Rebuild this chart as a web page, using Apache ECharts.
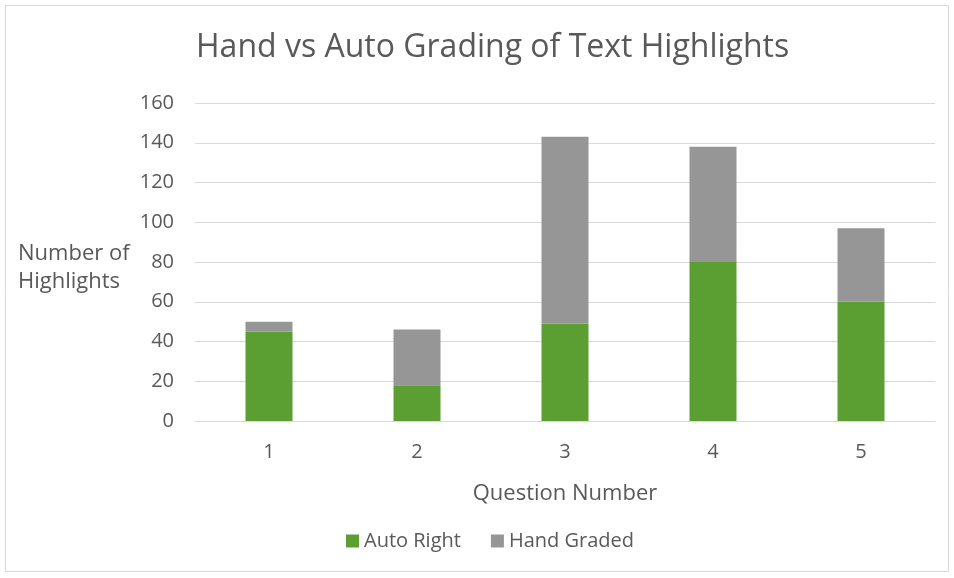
<!DOCTYPE html>
<html>
<head>
<meta charset="utf-8">
<script src="https://cdn.jsdelivr.net/npm/echarts@6/dist/echarts.min.js"></script>
<style>
  html, body { margin: 0; padding: 0; background: #fff; }
  #chart { width: 954px; height: 578px; }
</style>
</head>
<body>
<div id="chart"></div>
<script>
// Highlights per question, split by grading method
const questions = ['1', '2', '3', '4', '5'];
const autoRight = [45, 18, 49, 80, 60];
const handGraded = [5, 28, 94, 58, 37];
const yTicks = { min: 0, max: 160, interval: 20 };

const textColor = '#595959';
const fontFamily = 'Open Sans, Lato, sans-serif';

const chart = echarts.init(document.getElementById('chart'));
chart.setOption({
  backgroundColor: '#fff',
  animation: false,
  title: {
    text: 'Hand vs Auto Grading of Text Highlights',
    left: 191,
    top: 27,
    textStyle: { fontFamily, fontSize: 32, fontWeight: 'normal', color: textColor }
  },
  legend: {
    top: 526,
    left: 341,
    itemWidth: 13,
    itemHeight: 13,
    itemGap: 30,
    icon: 'rect',
    textStyle: { fontFamily, fontSize: 20, color: textColor }
  },
  grid: { left: 195, right: 19, top: 103, bottom: 157 },
  xAxis: {
    type: 'category',
    data: questions,
    name: 'Question Number',
    nameLocation: 'middle',
    nameGap: 62,
    nameTextStyle: { fontFamily, fontSize: 22, color: textColor },
    axisLine: { lineStyle: { color: '#d9d9d9' } },
    axisTick: { show: false },
    axisLabel: { fontFamily, fontSize: 20, color: textColor, margin: 21 }
  },
  yAxis: {
    type: 'value',
    min: yTicks.min,
    max: yTicks.max,
    interval: yTicks.interval,
    axisLine: { show: false },
    axisTick: { show: false },
    splitLine: { lineStyle: { color: '#d9d9d9', width: 1 } },
    axisLabel: { fontFamily, fontSize: 20, color: textColor, margin: 21 }
  },
  graphic: [
    {
      type: 'rect',
      shape: { x: 5.5, y: 5.5, width: 943, height: 566 },
      style: { fill: 'none', stroke: '#d9d9d9', lineWidth: 1 },
      silent: true
    },
    {
      type: 'text',
      left: 18,
      top: 240,
      style: {
        text: 'Number of\nHighlights',
        fontFamily,
        fontSize: 22,
        lineHeight: 28,
        fill: textColor,
        align: 'center'
      }
    }
  ],
  series: [
    {
      name: 'Auto Right',
      type: 'bar',
      stack: 'total',
      barWidth: 47,
      data: autoRight,
      itemStyle: { color: '#5b9f33' }
    },
    {
      name: 'Hand Graded',
      type: 'bar',
      stack: 'total',
      barWidth: 47,
      data: handGraded,
      itemStyle: { color: '#969696' }
    }
  ]
});
</script>
</body>
</html>
